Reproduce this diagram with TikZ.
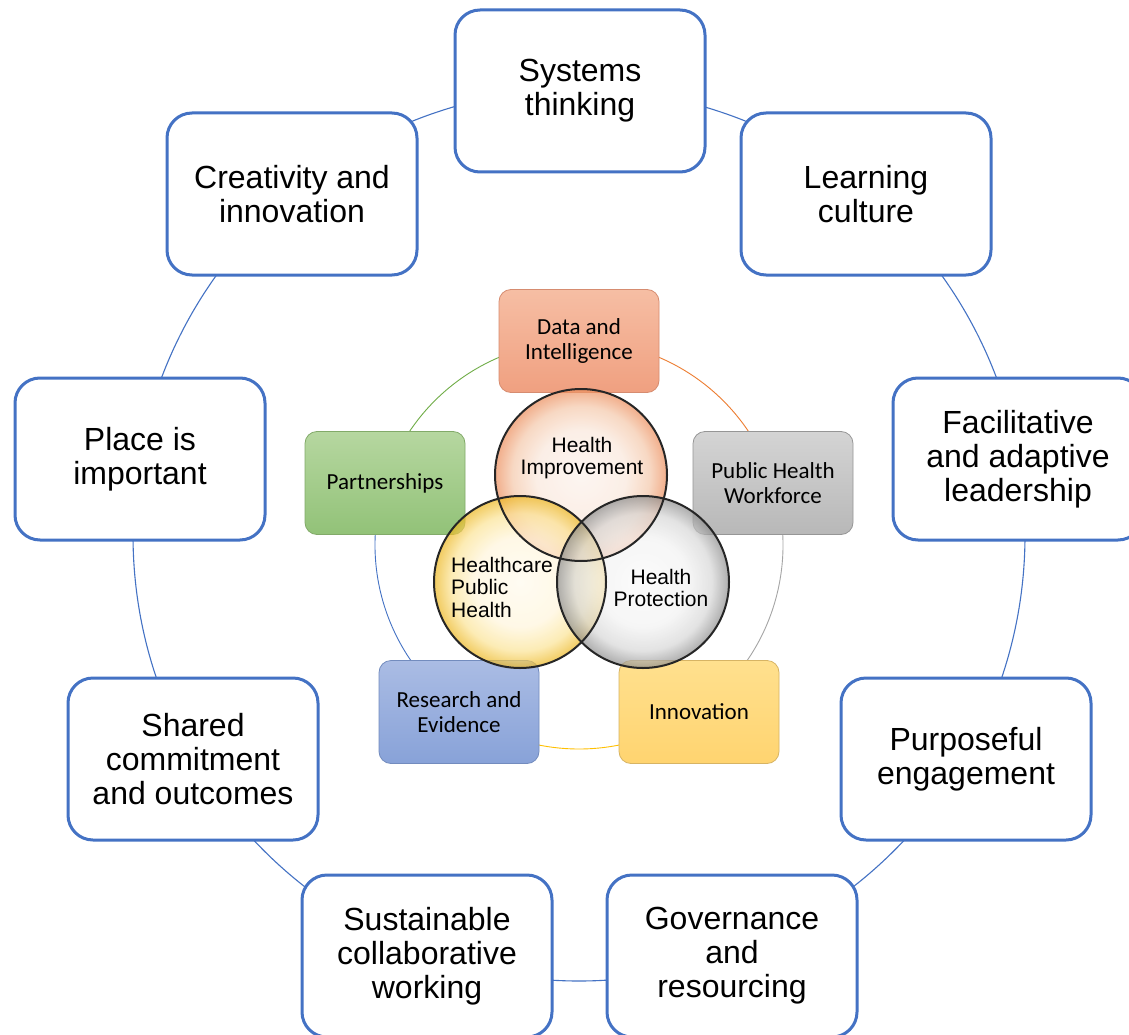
\documentclass[tikz,border=0pt]{standalone}
\usepackage{fontspec}
\setmainfont{Liberation Sans}
\newfontfamily\calfont{Carlito}
\definecolor{obl}{HTML}{4472C4}
\definecolor{rOr}{HTML}{ED7D31}
\definecolor{rGr}{HTML}{70AD47}
\definecolor{rGy}{HTML}{A5A5A5}
\definecolor{rGo}{HTML}{FFC000}
\definecolor{rBl}{HTML}{4472C4}
\definecolor{hiA}{RGB}{252,242,236}
\definecolor{hiB}{RGB}{250,232,220}
\definecolor{hiC}{RGB}{245,200,170}
\definecolor{hiD}{RGB}{236,140,90}
\definecolor{hcA}{RGB}{255,251,238}
\definecolor{hcB}{RGB}{255,246,220}
\definecolor{hcC}{RGB}{252,228,150}
\definecolor{hcD}{RGB}{236,182,30}
\definecolor{hpA}{RGB}{250,250,250}
\definecolor{hpB}{RGB}{243,243,243}
\definecolor{hpC}{RGB}{215,215,215}
\definecolor{hpD}{RGB}{140,140,140}
\pgfdeclareradialshading{bubHI}{\pgfpoint{0bp}{0bp}}{%
  color(0bp)=(hiA); color(13bp)=(hiB); color(20bp)=(hiC); color(25bp)=(hiD); color(50bp)=(hiD)}
\pgfdeclareradialshading{bubHC}{\pgfpoint{0bp}{0bp}}{%
  color(0bp)=(hcA); color(13bp)=(hcB); color(20bp)=(hcC); color(25bp)=(hcD); color(50bp)=(hcD)}
\pgfdeclareradialshading{bubHP}{\pgfpoint{0bp}{0bp}}{%
  color(0bp)=(hpA); color(13bp)=(hpB); color(20bp)=(hpC); color(25bp)=(hpD); color(50bp)=(hpD)}
\begin{document}
\begin{tikzpicture}[x=1pt,y=-1pt,
  outerbox/.style={draw=obl, line width=3pt, fill=white, rounded corners=25pt,
    minimum width=250pt, minimum height=162pt, align=center, inner sep=0pt,
    font=\fontsize{32}{34}\selectfont},
  innerbox/.style={rounded corners=12pt, minimum width=160pt, minimum height=103pt,
    align=center, inner sep=0pt, line width=0.8pt,
    font=\calfont\fontsize{23}{25.5}\selectfont},
  bubble/.style={circle, minimum size=172pt, inner sep=0pt, fill opacity=0.7},
  ring/.style={circle, minimum size=172pt, inner sep=0pt, draw=black!85, line width=2pt},
  vtext/.style={font=\fontsize{21}{22}\selectfont, inner sep=0pt}
]
\useasboundingbox (0,0) rectangle (1129,1035);
\fill[white] (0,0) rectangle (1129,1035);

% outer cycle ring
\coordinate (oc) at (579,535);
\draw[obl, line width=1.1pt] (oc) circle[radius=446];

% outer boxes
\node[outerbox] (o1) at (580,91)  {Systems\\thinking};
\node[outerbox] (o2) at (866,194) {Learning\\culture};
\node[outerbox] (o3) at (1018,459) {Facilitative\\and adaptive\\leadership};
\node[outerbox] (o4) at (966,759) {Purposeful\\engagement};
\node[outerbox] (o5) at (732,956) {Governance\\and\\resourcing};
\node[outerbox] (o6) at (427,956) {Sustainable\\collaborative\\working};
\node[outerbox] (o7) at (193,759) {Shared\\commitment\\and outcomes};
\node[outerbox] (o8) at (140,459) {Place is\\important};
\node[outerbox] (o9) at (292,194) {Creativity and\\innovation};

% inner ring arcs
\coordinate (ic) at (579,545);
\draw[rOr, line width=0.9pt] (ic) ++(-90:204) arc[start angle=-90, end angle=-18, radius=204];
\draw[rGy, line width=0.9pt] (ic) ++(-18:204) arc[start angle=-18, end angle=54, radius=204];
\draw[rGo, line width=0.9pt] (ic) ++(54:204) arc[start angle=54, end angle=126, radius=204];
\draw[rBl, line width=0.9pt] (ic) ++(126:204) arc[start angle=126, end angle=198, radius=204];
\draw[rGr, line width=0.9pt] (ic) ++(198:204) arc[start angle=198, end angle=270, radius=204];

% inner boxes
\node[innerbox, draw={rgb,255:red,214;green,140;blue,112}, top color={rgb,255:red,246;green,190;blue,164}, bottom color={rgb,255:red,240;green,160;blue,128}] (d) at (579,341) {Data and\\Intelligence};
\node[innerbox, draw={rgb,255:red,130;green,170;blue,105}, top color={rgb,255:red,182;green,215;blue,160}, bottom color={rgb,255:red,146;green,194;blue,120}] (p) at (385,483) {Partnerships};
\node[innerbox, draw={rgb,255:red,150;green,150;blue,150}, top color={rgb,255:red,212;green,212;blue,212}, bottom color={rgb,255:red,184;green,184;blue,184}] (w) at (773,483) {Public Health\\Workforce};
\node[innerbox, draw={rgb,255:red,115;green,140;blue,190}, top color={rgb,255:red,170;green,188;blue,228}, bottom color={rgb,255:red,136;green,162;blue,216}] (r) at (459,712) {Research and\\Evidence};
\node[innerbox, draw={rgb,255:red,215;green,180;blue,100}, top color={rgb,255:red,255;green,224;blue,142}, bottom color={rgb,255:red,255;green,212;blue,112}] (i) at (699,712) {Innovation};

% venn bubbles
\node[bubble, shading=bubHI] (hi) at (581,475) {};
\node[bubble, shading=bubHC] (hc) at (520,582) {};
\node[bubble, shading=bubHP] (hp) at (643,582) {};
\node[ring] (hir) at (hi) {};
\node[ring] (hcr) at (hc) {};
\node[ring] (hpr) at (hp) {};

\node[vtext, align=center] (hit) at (582,458) {Health\\Improvement};
\node[vtext, align=left, anchor=west] (hct) at (451,587) {Healthcare\\Public\\[1pt]Health};
\node[vtext, align=center] (hpt) at (661,588) {Health\\Protection};
\end{tikzpicture}
\end{document}
